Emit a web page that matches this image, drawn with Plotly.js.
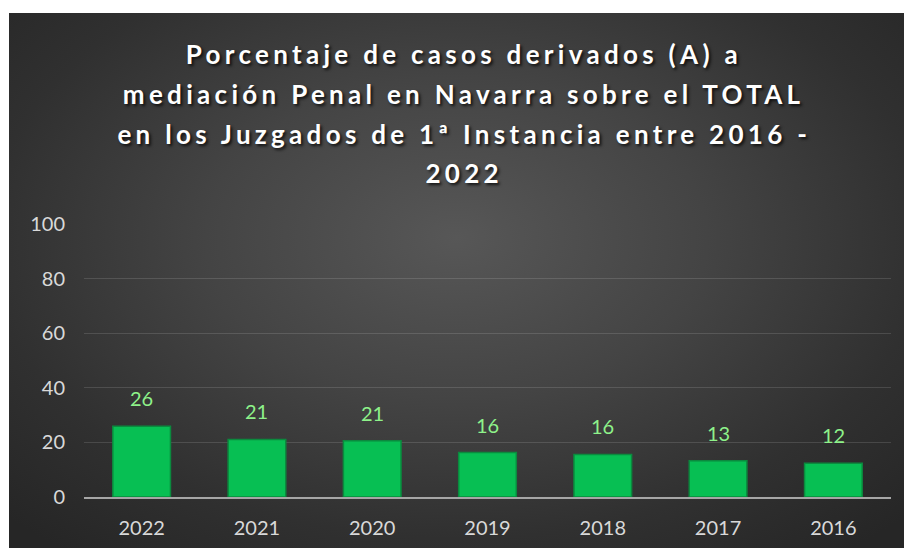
<!DOCTYPE html>
<html>
<head>
<meta charset="utf-8">
<script src="https://cdn.plot.ly/plotly-3.0.1.min.js"></script>
<style>
  html, body { margin: 0; padding: 0; background: #ffffff; }
  #wrap { position: relative; width: 904px; height: 548px; overflow: hidden; }
  #bg { position: absolute; left: 9px; top: 13px; width: 895px; height: 535px;
        background: radial-gradient(ellipse 70% 75% at 50% 42%, #575757 0%, #444444 40%, #303030 75%, #262626 100%); }
  #chart { position: absolute; left: 0; top: 0; width: 904px; height: 548px; }
  #chart g.annotation[data-index="7"] text,
  #chart g.annotation[data-index="8"] text,
  #chart g.annotation[data-index="9"] text,
  #chart g.annotation[data-index="10"] text { letter-spacing: 4.3px; }
</style>
</head>
<body>
<div id="wrap">
  <div id="bg"></div>
  <div id="chart"></div>
</div>
<script>
// Data
const years = ['2022', '2021', '2020', '2019', '2018', '2017', '2016'];
const values = [25.9, 21.1, 20.6, 16.3, 15.6, 13.3, 12.4];
const labels = ['26', '21', '21', '16', '16', '13', '12'];
const yTicks = [0, 20, 40, 60, 80, 100];
const titleLines = [
  'Porcentaje de casos derivados (A) a',
  'mediación Penal en Navarra sobre el TOTAL',
  'en los Juzgados de 1ª Instancia entre 2016 -',
  '2022'
];

const trace = {
  type: 'bar',
  x: years,
  y: values,
  width: 0.5,
  marker: { color: '#07bf53', line: { color: '#0b8a3e', width: 1.5 } },
  hoverinfo: 'x+y'
};

// value labels placed at category index (category axis positions)
const valueAnnotations = years.map((yr, i) => ({
  x: i, y: values[i], xref: 'x', yref: 'y',
  text: labels[i], showarrow: false, yshift: 28,
  font: { family: 'Lato, sans-serif', size: 20, color: '#8ef28a' }
}));

// Title lines: pixel centers converted to paper fractions (plot area 224..497)
const titleCenters = [54, 94, 134, 173];
const titleAnnotations = titleLines.map((t, i) => ({
  x: 0.471, xref: 'paper', yref: 'paper',
  y: (497 - titleCenters[i]) / 273,
  xanchor: 'center', yanchor: 'middle',
  text: t, showarrow: false,
  font: { family: 'Lato, sans-serif', size: 26, color: '#ffffff', weight: 700,
          shadow: '2px 2px 3px rgba(0,0,0,0.75)' }
}));

const layout = {
  width: 904, height: 548,
  margin: { l: 84, r: 13, t: 224, b: 51 },
  paper_bgcolor: 'rgba(0,0,0,0)',
  plot_bgcolor: 'rgba(0,0,0,0)',
  showlegend: false,
  xaxis: {
    type: 'category',
    categoryorder: 'array', categoryarray: years,
    range: [-0.5, years.length - 0.5],
    showgrid: false,
    showline: true, linecolor: '#a6a6a6', linewidth: 2,
    ticks: '', ticklabelstandoff: 12,
    tickfont: { family: 'Lato, sans-serif', size: 20, color: '#d9d9d9' },
    fixedrange: true
  },
  yaxis: {
    range: [0, 100],
    tickvals: yTicks,
    showgrid: true, gridcolor: 'rgba(255,255,255,0.13)', gridwidth: 1,
    zeroline: false, showline: false,
    ticks: '', ticklabelstandoff: 18,
    tickfont: { family: 'Lato, sans-serif', size: 20, color: '#d9d9d9' },
    fixedrange: true
  },
  annotations: valueAnnotations.concat(titleAnnotations)
};

Plotly.newPlot('chart', [trace], layout, { displayModeBar: false, staticPlot: true });
</script>
</body>
</html>
